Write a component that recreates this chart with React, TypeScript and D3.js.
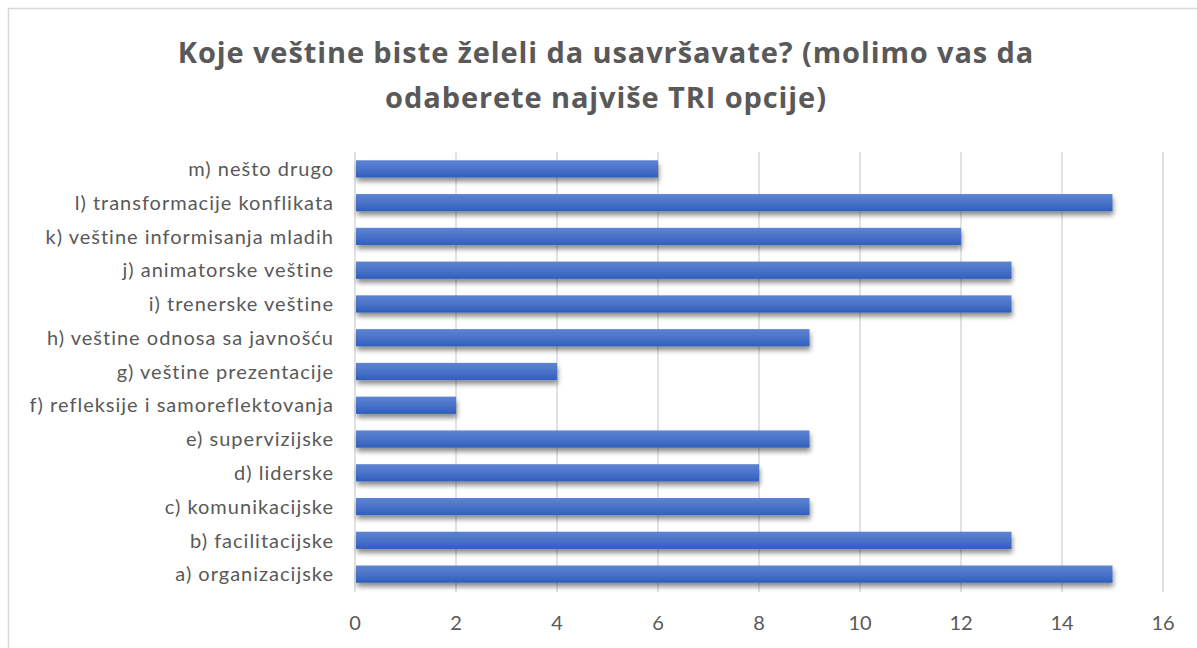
import React from "react";
import * as d3 from "d3";

const categories = [
  "m) nešto drugo",
  "l) transformacije konflikata",
  "k) veštine informisanja mladih",
  "j) animatorske veštine",
  "i) trenerske veštine",
  "h) veštine odnosa sa javnošću",
  "g) veštine prezentacije",
  "f) refleksije i samoreflektovanja",
  "e) supervizijske",
  "d) liderske",
  "c) komunikacijske",
  "b) facilitacijske",
  "a) organizacijske",
];
const values = [6, 15, 12, 13, 13, 9, 4, 2, 9, 8, 9, 13, 15];
const ticks = [0, 2, 4, 6, 8, 10, 12, 14, 16];
const titleLines = [
  "Koje veštine biste želeli da usavršavate? (molimo vas da",
  "odaberete najviše TRI opcije)",
];

const W = 1197;
const H = 648;
const TITLE_FONT = "'Open Sans', sans-serif";
const FONT = "Lato, 'Open Sans', sans-serif";

export default function App() {
  const x = d3.scaleLinear().domain([0, 16]).range([355, 1163]);
  const y = d3
    .scaleBand<string>()
    .domain(categories)
    .range([152, 591])
    .paddingInner(0.49)
    .paddingOuter(0.245);
  const bw = y.bandwidth();

  return (
    <svg
      width={W}
      height={H}
      style={{ position: "absolute", left: 0, top: 0, display: "block", background: "#fff" }}
    >
      <defs>
        <linearGradient id="barGrad" x1="0" y1="0" x2="0" y2="1">
          <stop offset="0" stopColor="#5d84d2" />
          <stop offset="0.5" stopColor="#4a73c9" />
          <stop offset="1" stopColor="#2f5ebd" />
        </linearGradient>
        <filter id="shadow" x="-5%" y="-50%" width="110%" height="220%">
          <feGaussianBlur in="SourceAlpha" stdDeviation="2.5" />
          <feOffset dx="1" dy="4" result="ob" />
          <feComponentTransfer>
            <feFuncA type="linear" slope="0.45" />
          </feComponentTransfer>
          <feMerge>
            <feMergeNode />
            <feMergeNode in="SourceGraphic" />
          </feMerge>
        </filter>
      </defs>
      <rect x={8.5} y={8.5} width={W + 20} height={H + 20} fill="#fff" stroke="#d9d9d9" strokeWidth={1.5} />
      {titleLines.map((t, i) => (
        <text
          key={i}
          x={606}
          y={63 + i * 45}
          textAnchor="middle"
          fontFamily={TITLE_FONT}
          fontWeight="bold"
          fontSize={29}
          letterSpacing={0.9}
          fill="#595959"
        >
          {t}
        </text>
      ))}
      {ticks.map((t) => (
        <g key={t}>
          <line x1={x(t)} x2={x(t)} y1={152} y2={592} stroke="#d9d9d9" strokeWidth={1.5} />
          <text
            x={x(t)}
            y={630}
            textAnchor="middle"
            fontFamily={FONT}
            fontSize={20}
            fill="#595959"
          >
            {t}
          </text>
        </g>
      ))}
      {categories.map((c, i) => (
        <g key={c}>
          <rect
            x={x(0) + 1}
            y={y(c)!}
            width={x(values[i]) - x(0) - 1}
            height={bw}
            fill="url(#barGrad)"
            filter="url(#shadow)"
          />
          <text
            x={334}
            y={y(c)! + bw / 2}
            dy="0.36em"
            textAnchor="end"
            fontFamily={FONT}
            fontSize={20}
            letterSpacing={1}
            fill="#595959"
          >
            {c}
          </text>
        </g>
      ))}
    </svg>
  );
}
